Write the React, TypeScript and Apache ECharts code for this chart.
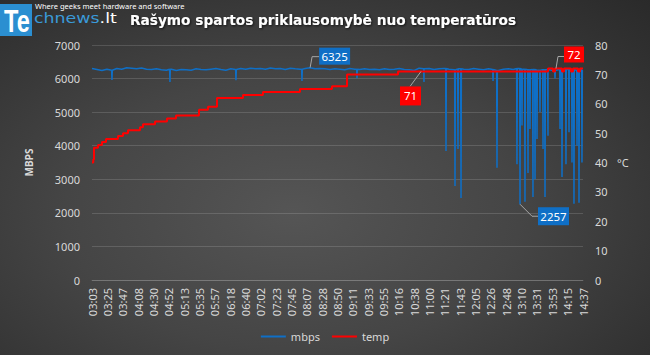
import React, { useEffect, useRef } from 'react';
import * as echarts from 'echarts';

// X tick labels (clock time)
const tickLabels = [
  '03:03', '03:25', '03:47', '04:08', '04:30', '04:52', '05:13', '05:35', '05:57', '06:18', '06:40',
  '07:02', '07:23', '07:45', '08:07', '08:28', '08:50', '09:11', '09:33', '09:55', '10:16', '10:38',
  '11:00', '11:21', '11:43', '12:05', '12:26', '12:48', '13:10', '13:31', '13:53', '14:15', '14:37',
];
const labelStepMinutes = 65 / 3;
const totalMinutes = labelStepMinutes * (tickLabels.length - 1);

// mbps: baseline readings every 7 minutes from start
const mbpsStepMinutes = 7;
const mbpsBase = [
  6300, 6270, 6240, 6280, 6250, 6300, 6280, 6320, 6310, 6290, 6315, 6280, 6270, 6290,
  6260, 6250, 6280, 6240, 6270, 6260, 6250, 6290, 6270, 6260, 6280, 6300, 6270, 6250,
  6290, 6270, 6300, 6280, 6310, 6290, 6300, 6280, 6315, 6290, 6300, 6270, 6310, 6290,
  6280, 6300, 6325, 6290, 6300, 6290, 6270, 6290, 6280, 6260, 6300, 6280, 6270, 6290,
  6270, 6280, 6260, 6290, 6270, 6280, 6300, 6270, 6260, 6240, 6310, 6290, 6300, 6270,
  6290, 6300, 6280, 6260, 6290, 6280, 6270, 6300, 6280, 6260, 6290, 6270, 6240, 6280,
  6290, 6270, 6300, 6280, 6260, 6270, 6250, 6260, 6270, 6240, 6260, 6250, 6270, 6260, 6250, 6260,
];
// mbps: short drops [minute, mbps]
const mbpsDips = [
  [28.2, 5960], [110.1, 5900], [203.3, 5950], [296.5, 5930], [374.2, 6010], [468.8, 5900],
  [499.9, 3840], [512.6, 2800], [516.8, 3900], [521.1, 2440], [566.3, 5930], [571.9, 3340],
  [600.1, 3450], [604.4, 2257], [607.2, 4600], [611.4, 2330], [615.7, 3190], [618.5, 4500],
  [622.7, 2470], [625.6, 3000], [628.4, 4200], [632.6, 5000], [636.9, 3900], [639.7, 2470],
  [643.9, 4300], [653.8, 6000], [660.9, 4500], [663.7, 3070], [669.3, 3450], [673.6, 4400],
  [677.8, 3500], [680.6, 2270], [684.9, 4000], [687.7, 2300], [691.9, 3500],
];

// temperature steps
const tempTimes = [
  0, 1.8, 2.8, 8.5, 14.1, 19.8, 36.7, 43.8, 50.8, 67.8, 72.0, 89.0, 105.9, 118.6, 151.1, 163.8,
  176.5, 213.2, 241.4, 293.7, 338.9, 360.1, 432.1, 643.9, 651.0, 653.8, 663.7, 666.5, 676.4, 679.2,
  686.3, 689.1, 693.3,
];
const tempValues = [
  40, 41, 45, 46, 47, 48, 49, 50, 51, 52, 53, 54, 55, 56, 58, 59,
  62, 63, 64, 65, 66, 70, 71, 72, 71, 72, 71, 72, 71, 72,
  71, 72, 72,
];
const tempLabelTimes = [464.6, 655.2];

const BLUE = '#0f6fc6';
const RED = '#ff0000';
const TXT = '#d9d9d9';
const GRIDC = 'rgba(255,255,255,0.14)';
const FONT = '"Noto Sans", sans-serif';

function buildMbps(): [number, number][] {
  const pts: [number, number][] = mbpsBase.map((v, i) => [i * mbpsStepMinutes, v]);
  mbpsDips.forEach(([t, v]) => {
    const b = mbpsBase[Math.min(mbpsBase.length - 1, Math.round(t / mbpsStepMinutes))];
    pts.push([t - 0.5, b], [t, v], [t + 0.5, b]);
  });
  pts.sort((a, b) => a[0] - b[0]);
  return pts;
}

function tempAt(t: number) {
  let v = tempValues[0];
  for (let i = 0; i < tempTimes.length; i++) if (tempTimes[i] <= t) v = tempValues[i];
  return v;
}

export default function App() {
  const ref = useRef<HTMLDivElement>(null);
  useEffect(() => {
    if (!ref.current) return;
    const chart = echarts.init(ref.current, null, { renderer: 'svg' });
    const mbpsData = buildMbps();
    const tempData = tempTimes.map((t, i) => [t, tempValues[i]]);

    const staticGraphic: any[] = [
      { type: 'rect', shape: { x: 0, y: 4, width: 32, height: 32 }, style: { fill: '#2b8fd1' } },
      {
        type: 'text', x: 4, y: 21, scaleX: 0.76,
        style: { text: 'Te', fill: '#ffffff', font: 'bold 31px "Liberation Sans"', textVerticalAlign: 'middle' },
      },
      {
        type: 'text', x: 35, y: 6,
        style: { text: 'Where geeks meet hardware and software', fill: '#ffffff', font: '7.5px "Noto Sans"', textVerticalAlign: 'middle' },
      },
      {
        type: 'text', x: 34, y: 18, scaleX: 1.2,
        style: {
          text: '{b|chnews}{w|.lt}', textVerticalAlign: 'middle',
          rich: {
            b: { fill: '#3a9ad9', font: '14.5px "DejaVu Sans"' },
            w: { fill: '#ffffff', font: '14.5px "DejaVu Sans"' },
          },
        },
      },
      {
        type: 'text', x: 130, y: 20,
        style: {
          text: 'Rašymo spartos priklausomybė nuo temperatūros', fill: '#ffffff',
          font: 'bold 13.7px "DejaVu Sans"', textVerticalAlign: 'middle',
          textShadowColor: 'rgba(0,0,0,0.7)', textShadowBlur: 2, textShadowOffsetX: 1, textShadowOffsetY: 1,
        },
      },
      {
        type: 'text', x: 617, y: 162,
        style: { text: '°C', fill: TXT, font: '11px "Noto Sans"', textVerticalAlign: 'middle' },
      },
    ];

    chart.setOption({
      animation: false,
      backgroundColor: 'transparent',
      grid: { left: 92, right: 67, top: 45, bottom: 75 },
      legend: {
        data: ['mbps', 'temp'], left: 'center', top: 326, icon: 'rect', itemWidth: 25, itemHeight: 2, itemGap: 12,
        textStyle: { color: TXT, fontSize: 11, fontFamily: FONT },
      },
      xAxis: [
        {
          type: 'category', data: tickLabels, boundaryGap: false,
          axisLine: { show: true, lineStyle: { color: GRIDC } }, axisTick: { show: false },
          axisLabel: { rotate: 90, interval: 0, color: TXT, fontSize: 11, fontFamily: FONT, margin: 8 },
          splitLine: { show: false },
        },
        { type: 'value', min: 0, max: totalMinutes, show: false },
      ],
      yAxis: [
        {
          type: 'value', min: 0, max: 7000, interval: 1000,
          name: 'MBPS', nameLocation: 'middle', nameGap: 58, nameRotate: 90,
          nameTextStyle: { color: TXT, fontSize: 10, fontWeight: 'bold', fontFamily: FONT },
          axisLine: { show: false }, axisTick: { show: false },
          axisLabel: { color: TXT, fontSize: 11, fontFamily: FONT, margin: 12, formatter: (v: number) => String(v) },
          splitLine: { lineStyle: { color: GRIDC } },
        },
        {
          type: 'value', min: 0, max: 80, interval: 10, position: 'right',
          axisLine: { show: false }, axisTick: { show: false },
          axisLabel: { color: TXT, fontSize: 11, fontFamily: FONT, margin: 12, formatter: (v: number) => String(v) },
          splitLine: { show: false },
        },
      ],
      series: [
        {
          name: 'mbps', type: 'line', xAxisIndex: 1, yAxisIndex: 0, data: mbpsData,
          symbol: 'none', showSymbol: false, lineStyle: { color: BLUE, width: 1.5 }, itemStyle: { color: BLUE },
        },
        {
          name: 'temp', type: 'line', xAxisIndex: 1, yAxisIndex: 1, data: tempData, step: 'end',
          symbol: 'none', showSymbol: false, lineStyle: { color: RED, width: 2 }, itemStyle: { color: RED },
        },
      ],
      graphic: staticGraphic,
    });

    // callouts
    let maxP = mbpsData[0], minP = mbpsData[0];
    mbpsData.forEach((p) => { if (p[1] > maxP[1]) maxP = p; if (p[1] < minP[1]) minP = p; });
    const callouts = [
      { p: maxP, yi: 0, color: BLUE, box: [9, -20, 31, 17], lead: [[0, 0], [2, -11], [9, -11]] },
      { p: minP, yi: 0, color: BLUE, box: [18, 3, 31, 18], lead: [[0, 0], [12, 12], [18, 12]] },
      { p: [tempLabelTimes[0], tempAt(tempLabelTimes[0])], yi: 1, color: RED, box: [-21, 15, 21, 19], lead: [[0, 0], [-11, 15]] },
      { p: [tempLabelTimes[1], tempAt(tempLabelTimes[1])], yi: 1, color: RED, box: [8, -22, 20, 16], lead: [[0, 0], [2, -12], [8, -12]] },
    ];
    const dyn: any[] = [];
    callouts.forEach((c) => {
      const px = chart.convertToPixel({ xAxisIndex: 1, yAxisIndex: c.yi } as any, c.p as any) as number[];
      if (!px) return;
      const [x, y] = px;
      dyn.push({
        type: 'polyline', shape: { points: c.lead.map(([dx, dy]) => [x + dx, y + dy]) },
        style: { stroke: '#a6a6a6', lineWidth: 1, fill: null }, z: 10,
      });
      dyn.push({
        type: 'rect', shape: { x: x + c.box[0], y: y + c.box[1], width: c.box[2], height: c.box[3] },
        style: { fill: c.color }, z: 11,
      });
      dyn.push({
        type: 'text', x: x + c.box[0] + c.box[2] / 2, y: y + c.box[1] + c.box[3] / 2, z: 12,
        style: {
          text: String(c.p[1]), fill: '#ffffff', font: '11.5px "Noto Sans"',
          textAlign: 'center', textVerticalAlign: 'middle',
        },
      });
    });
    chart.setOption({ graphic: [...staticGraphic, ...dyn] }, { replaceMerge: ['graphic'] });

    return () => chart.dispose();
  }, []);

  return (
    <div
      ref={ref}
      style={{
        position: 'absolute', left: 0, top: 0, width: 650, height: 355,
        background: 'radial-gradient(ellipse at 45% 60%, #555555 0%, #454545 45%, #333333 80%, #2a2a2a 100%)',
      }}
    />
  );
}
